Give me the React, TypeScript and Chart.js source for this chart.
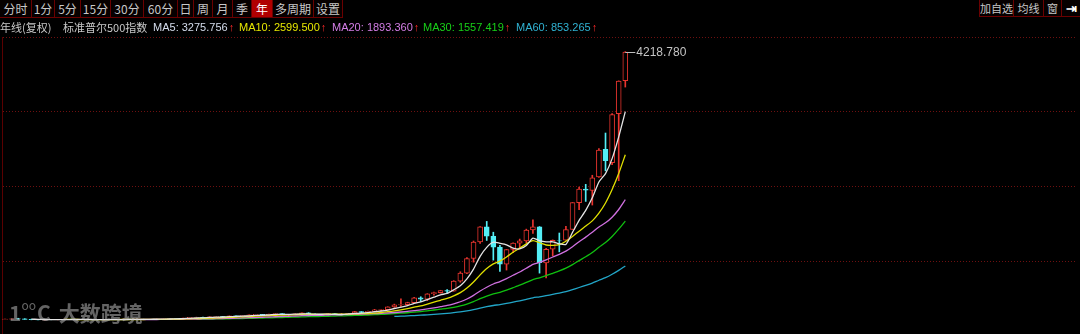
import React, { useEffect, useRef } from "react";
import { Chart, registerables } from "chart.js";

Chart.register(...registerables);

const years = [
  1927, 1928, 1929, 1930, 1931, 1932, 1933, 1934, 1935, 1936,
  1937, 1938, 1939, 1940, 1941, 1942, 1943, 1944, 1945, 1946,
  1947, 1948, 1949, 1950, 1951, 1952, 1953, 1954, 1955, 1956,
  1957, 1958, 1959, 1960, 1961, 1962, 1963, 1964, 1965, 1966,
  1967, 1968, 1969, 1970, 1971, 1972, 1973, 1974, 1975, 1976,
  1977, 1978, 1979, 1980, 1981, 1982, 1983, 1984, 1985, 1986,
  1987, 1988, 1989, 1990, 1991, 1992, 1993, 1994, 1995, 1996,
  1997, 1998, 1999, 2000, 2001, 2002, 2003, 2004, 2005, 2006,
  2007, 2008, 2009, 2010, 2011, 2012, 2013, 2014, 2015, 2016,
  2017, 2018, 2019, 2020, 2021,
];

const opens = [
  13.4, 17.66, 24.35, 21.45, 15.34, 8.12, 6.89, 10.1, 9.5, 13.43,
  17.18, 10.55, 13.21, 12.49, 10.58, 8.69, 9.77, 11.67, 13.28, 17.36,
  15.3, 15.3, 15.2, 16.76, 20.41, 23.77, 26.57, 24.81, 35.98, 45.48,
  46.67, 39.99, 55.21, 59.89, 58.11, 71.55, 63.1, 75.02, 84.75, 92.43,
  80.33, 96.47, 103.86, 92.06, 92.15, 102.09, 118.05, 97.55, 68.56, 90.19,
  107.46, 95.1, 96.11, 107.94, 135.76, 122.55, 140.64, 164.93, 167.2, 211.28,
  242.17, 247.08, 277.72, 353.4, 330.22, 417.03, 435.7, 466.51, 459.21, 615.93,
  740.74, 970.43, 1229.23, 1469.25, 1320.28, 1148.08, 879.82, 1111.92, 1211.92, 1248.29,
  1418.03, 1467.97, 902.99, 1116.56, 1257.62, 1258.86, 1426.19, 1845.86, 2058.9, 2038.2,
  2251.57, 2683.73, 2476.96, 3244.67, 3764.61,
];

const highs = [
  17.71, 24.35, 31.86, 25.92, 18.17, 9.31, 12.2, 11.82, 13.46, 17.69,
  18.68, 13.79, 13.23, 12.77, 10.86, 9.77, 12.64, 13.29, 17.68, 19.25,
  16.2, 17.06, 16.79, 20.43, 23.85, 26.59, 26.66, 35.98, 46.41, 49.74,
  49.13, 55.21, 60.71, 60.39, 72.64, 71.55, 75.02, 86.28, 92.63, 94.06,
  97.59, 108.37, 106.16, 93.46, 104.77, 119.12, 120.24, 99.8, 95.61, 107.83,
  107.97, 106.99, 111.27, 140.52, 138.12, 143.02, 172.65, 170.41, 212.02, 254.0,
  337.89, 283.95, 359.8, 369.78, 418.32, 442.65, 471.29, 482.85, 622.88, 762.12,
  985.5, 1244.93, 1473.1, 1552.87, 1383.37, 1176.97, 1112.56, 1217.33, 1275.8, 1431.81,
  1576.09, 1471.77, 1130.38, 1262.6, 1370.58, 1474.51, 1849.44, 2093.55, 2134.72, 2277.53,
  2694.97, 2940.91, 3247.93, 3760.2, 4218.78,
];

const lows = [
  13.18, 16.95, 17.66, 14.44, 7.72, 4.4, 5.53, 8.36, 8.06, 13.4,
  10.17, 8.5, 10.18, 8.99, 8.37, 7.47, 9.77, 11.56, 13.21, 14.12,
  13.71, 13.84, 13.55, 16.65, 20.41, 23.09, 22.71, 24.8, 34.58, 43.11,
  38.98, 39.99, 53.58, 52.3, 57.57, 52.32, 62.69, 75.02, 81.6, 73.2,
  80.33, 87.72, 89.2, 69.29, 90.16, 101.67, 92.16, 62.28, 68.56, 90.19,
  90.71, 86.9, 96.11, 98.22, 112.77, 102.42, 138.34, 147.82, 163.36, 203.49,
  216.46, 242.63, 275.31, 294.51, 309.35, 394.42, 426.88, 435.86, 457.2, 597.29,
  733.16, 912.83, 1205.46, 1254.07, 944.75, 768.63, 788.9, 1060.72, 1136.15, 1219.29,
  1363.98, 741.02, 666.79, 1010.91, 1074.77, 1258.86, 1426.19, 1737.92, 1867.01, 1810.1,
  2245.13, 2346.58, 2443.96, 2191.86, 3662.71,
];

const closes = [
  17.66, 24.35, 21.45, 15.34, 8.12, 6.89, 10.1, 9.5, 13.43, 17.18,
  10.55, 13.21, 12.49, 10.58, 8.69, 9.77, 11.67, 13.28, 17.36, 15.3,
  15.3, 15.2, 16.76, 20.41, 23.77, 26.57, 24.81, 35.98, 45.48, 46.67,
  39.99, 55.21, 59.89, 58.11, 71.55, 63.1, 75.02, 84.75, 92.43, 80.33,
  96.47, 103.86, 92.06, 92.15, 102.09, 118.05, 97.55, 68.56, 90.19, 107.46,
  95.1, 96.11, 107.94, 135.76, 122.55, 140.64, 164.93, 167.24, 211.28, 242.17,
  247.08, 277.72, 353.4, 330.22, 417.09, 435.71, 466.45, 459.27, 615.93, 740.74,
  970.43, 1229.23, 1469.25, 1320.28, 1148.08, 879.82, 1111.92, 1211.92, 1248.29, 1418.3,
  1468.36, 903.25, 1115.1, 1257.64, 1257.6, 1426.19, 1848.36, 2058.9, 2043.94, 2238.83,
  2673.61, 2506.85, 3230.78, 3756.07, 4211.47,
];

const maPeriods = [5, 10, 20, 30, 60];
const maNames = ["MA5", "MA10", "MA20", "MA30", "MA60"];
const maLegendValues = ["3275.756", "2599.500", "1893.360", "1557.419", "853.265"];
const maColors = ["#e4e4e4", "#e0e000", "#d070e0", "#10c010", "#22a6c8"];
const maLegendColors = ["#d4dcec", "#e6e600", "#d47ee6", "#18d018", "#30b2d2"];
const maLegendX = [153, 239, 332, 423, 516];

const toolbarItems = ["分时", "1分", "5分", "15分", "30分", "60分", "日", "周", "月", "季", "年", "多周期", "设置"];
const toolbarWidths = [32, 23, 26, 30, 33, 34, 16, 19, 20, 19, 21, 41, 29];
const rightItems = ["加自选", "均线", "窗", "⇥"];
const rightWidths = [34, 30, 18, 19];

const yGridValues = [930.6, 2103.9, 3277.2, 4448.8];
const yMin = -215.1;
const yMax = 4448.8;
const xMin = 1926.545;
const xMax = 2089.45;

const RED = "#e8342e";
const CYAN = "#54eef6";

function movingAverage(n: number) {
  const out: { x: number; y: number }[] = [];
  for (let i = n - 1; i < closes.length; i++) {
    let s = 0;
    for (let j = i - n + 1; j <= i; j++) s += closes[j];
    out.push({ x: years[i], y: s / n });
  }
  return out;
}

const maxLabelPlugin = {
  id: "maxLabel",
  afterDatasetsDraw(chart: any) {
    const ctx = chart.ctx;
    const xs = chart.scales.x;
    const ys = chart.scales.y;
    let idx = 0;
    for (let i = 1; i < highs.length; i++) if (highs[i] > highs[idx]) idx = i;
    const px = xs.getPixelForValue(years[idx]);
    const py = Math.round(ys.getPixelForValue(highs[idx])) + 0.5;
    ctx.save();
    ctx.strokeStyle = "#bdbdbd";
    ctx.lineWidth = 1;
    ctx.beginPath();
    ctx.moveTo(px, py);
    ctx.lineTo(px + 10, py);
    ctx.stroke();
    ctx.fillStyle = "#c4c4c4";
    ctx.font = '12px "Liberation Sans", Arial, sans-serif';
    ctx.textBaseline = "middle";
    ctx.textAlign = "left";
    ctx.fillText(highs[idx].toFixed(3), px + 11, py);
    ctx.restore();
  },
};

export default function App() {
  const canvasRef = useRef<HTMLCanvasElement | null>(null);

  useEffect(() => {
    if (!canvasRef.current) return;
    const up = closes.map((c, i) => c >= opens[i]);
    const chart = new Chart(canvasRef.current, {
      type: "bar",
      data: {
        datasets: [
          {
            type: "bar",
            label: "wick",
            data: years.map((x, i) => ({ x, y: [lows[i], highs[i]] })) as any,
            backgroundColor: up.map((u) => (u ? RED : CYAN)),
            borderWidth: 0,
            barThickness: 1,
            grouped: false,
            order: 3,
          } as any,
          {
            type: "bar",
            label: "body",
            data: years.map((x, i) => ({ x, y: [opens[i], closes[i]] })) as any,
            backgroundColor: up.map((u) => (u ? "#000000" : CYAN)),
            borderColor: up.map((u) => (u ? RED : CYAN)),
            borderWidth: 1,
            borderSkipped: false,
            barThickness: 5,
            grouped: false,
            order: 2,
          } as any,
          ...maPeriods.map(
            (n, k) =>
              ({
                type: "line",
                label: maNames[k],
                data: movingAverage(n),
                borderColor: maColors[k],
                borderWidth: 1.3,
                pointRadius: 0,
                tension: 0.2,
                fill: false,
                order: 1,
              } as any)
          ),
        ],
      },
      options: {
        animation: false,
        responsive: false,
        events: [],
        layout: { padding: { top: 37, left: 2, right: 3, bottom: 0 } },
        plugins: {
          legend: { display: false },
          tooltip: { enabled: false },
          title: { display: false },
        },
        scales: {
          x: {
            type: "linear",
            min: xMin,
            max: xMax,
            offset: false,
            display: false,
          },
          y: {
            type: "linear",
            min: yMin,
            max: yMax,
            position: "left",
            afterBuildTicks: (axis: any) => {
              axis.ticks = yGridValues.map((v) => ({ value: v }));
            },
            ticks: { display: false },
            grid: { color: "#6e1010", drawTicks: false, lineWidth: 1 },
            border: { display: true, color: "#5a0000", dash: [1, 2] },
          },
        },
      } as any,
      plugins: [maxLabelPlugin],
    });
    return () => chart.destroy();
  }, []);

  const font = '"Noto Sans CJK SC", "Noto Sans", sans-serif';

  let acc = 0;
  const leftButtons = toolbarItems.map((t, i) => {
    const left = acc;
    acc += toolbarWidths[i];
    const sel = t === "年";
    return (
      <div
        key={t}
        style={{
          position: "absolute",
          left,
          top: 0,
          width: toolbarWidths[i],
          height: 18,
          boxSizing: "border-box",
          borderRight: "1px solid #6a0000",
          borderBottom: "1px solid #6a0000",
          background: sel ? "#b00000" : "#060000",
          color: sel ? "#ffffff" : "#c8c8c8",
          fontSize: 12,
          lineHeight: "17px",
          textAlign: "center",
          whiteSpace: "nowrap",
        }}
      >
        {t}
      </div>
    );
  });

  let racc = 1080 - rightWidths.reduce((a, b) => a + b, 0);
  const rightButtons = rightItems.map((t, i) => {
    const left = racc;
    racc += rightWidths[i];
    return (
      <div
        key={t}
        style={{
          position: "absolute",
          left,
          top: 0,
          width: rightWidths[i],
          height: 17,
          boxSizing: "border-box",
          borderLeft: "1px solid #6a0000",
          borderBottom: "1px solid #6a0000",
          background: "#060000",
          color: i === 3 ? "#ffffff" : "#c8c8c8",
          fontSize: i === 3 ? 13 : 11,
          fontWeight: i === 3 ? 700 : 400,
          lineHeight: "16px",
          textAlign: "center",
          whiteSpace: "nowrap",
          overflow: "hidden",
        }}
      >
        {t}
      </div>
    );
  });

  return (
    <div
      style={{
        position: "fixed",
        left: 0,
        top: 0,
        width: 1080,
        height: 334,
        background: "#000000",
        overflow: "hidden",
        fontFamily: font,
      }}
    >
      <canvas
        ref={canvasRef}
        width={1080}
        height={334}
        style={{ position: "absolute", left: 0, top: 0, width: 1080, height: 334 }}
      />
      {leftButtons}
      {rightButtons}
      <div style={{ position: "absolute", left: 0, top: 19, height: 16, fontSize: 11, lineHeight: "16px", color: "#c8c8c8", whiteSpace: "nowrap" }}>
        年线(复权)
      </div>
      <div style={{ position: "absolute", left: 63, top: 19, height: 16, fontSize: 11, lineHeight: "16px", color: "#c8c8c8", whiteSpace: "nowrap" }}>
        标准普尔500指数
      </div>
      {maNames.map((n, k) => (
        <div
          key={n}
          style={{
            position: "absolute",
            left: maLegendX[k],
            top: 19,
            height: 16,
            fontSize: 11,
            lineHeight: "16px",
            whiteSpace: "nowrap",
            fontFamily: '"Liberation Sans", Arial, sans-serif',
          }}
        >
          <span style={{ color: maLegendColors[k] }}>
            {n}: {maLegendValues[k]}
          </span>
          <span style={{ color: "#ff2a2a", marginLeft: 1 }}>↑</span>
        </div>
      ))}
      <div
        style={{
          position: "absolute",
          left: 9,
          top: 298,
          height: 28,
          fontSize: 21,
          lineHeight: "28px",
          color: "rgba(200,200,200,0.5)",
          whiteSpace: "nowrap",
          fontWeight: 700,
        }}
      >
        <span>1</span>
        <span style={{ fontSize: 12, verticalAlign: "top", lineHeight: "14px", fontWeight: 400 }}>oo</span>
        <span style={{ marginLeft: 1 }}>C</span>
        <span style={{ marginLeft: 8 }}>大数跨境</span>
      </div>
    </div>
  );
}
